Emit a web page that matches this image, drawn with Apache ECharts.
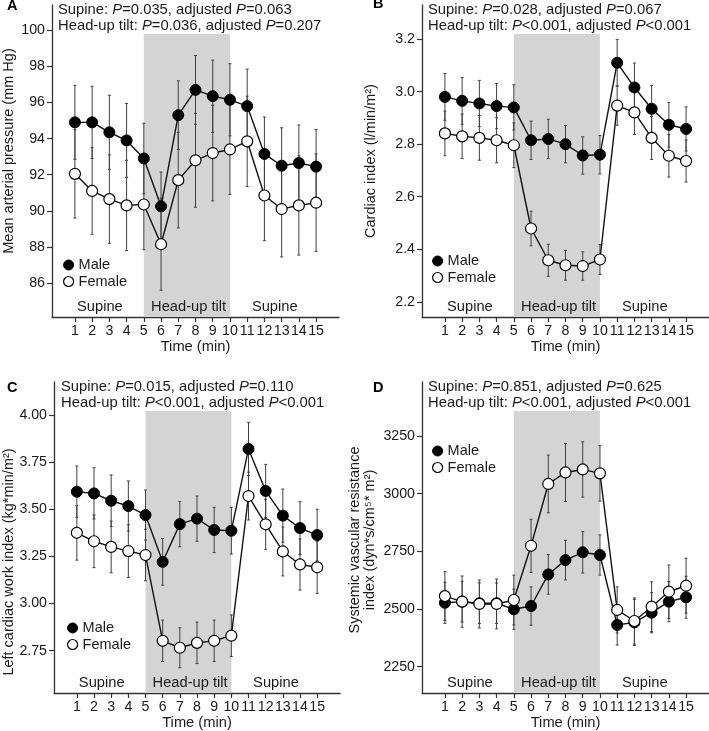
<!DOCTYPE html>
<html>
<head>
<meta charset="utf-8">
<script src="https://cdn.jsdelivr.net/npm/echarts@6/dist/echarts.min.js"></script>
<style>
html,body{margin:0;padding:0;background:#fff;}
#chart{width:709px;height:731px;}
</style>
</head>
<body>
<div id="chart"></div>
<script>
// time axis
const timePoints = [1,2,3,4,5,6,7,8,9,10,11,12,13,14,15];
const phaseNames = ['Supine', 'Head-up tilt', 'Supine'];
const phaseCenters = [2.45, 7.6, 12.6];
const tiltStart = 5, tiltEnd = 10;

// A - mean arterial pressure (mm Hg), mean and error
const mapMale = [94.9, 94.9, 94.35, 93.9, 92.9, 90.25, 95.3, 96.7, 96.35, 96.15, 95.8, 93.15, 92.5, 92.65, 92.45];
const mapMaleErr = [2.05, 2.0, 2.05, 2.05, 1.95, 1.9, 1.9, 1.9, 2.0, 2.0, 2.05, 2.05, 2.1, 2.1, 2.05];
const mapFemale = [92.05, 91.1, 90.65, 90.3, 90.35, 88.15, 91.7, 92.8, 93.2, 93.4, 93.85, 90.85, 90.1, 90.3, 90.45];
const mapFemaleErr = [2.45, 2.4, 2.45, 2.5, 2.5, 2.55, 2.65, 2.6, 2.65, 2.5, 2.5, 2.5, 2.65, 2.75, 2.7];
const mapTicks = [86, 88, 90, 92, 94, 96, 98, 100];

// B - cardiac index
const ciMale = [2.98, 2.965, 2.955, 2.945, 2.94, 2.815, 2.82, 2.80, 2.757, 2.76, 3.11, 3.016, 2.935, 2.874, 2.858];
const ciMaleErr = [0.089, 0.089, 0.088, 0.086, 0.086, 0.073, 0.075, 0.071, 0.071, 0.073, 0.089, 0.093, 0.089, 0.085, 0.084];
const ciFemale = [2.841, 2.83, 2.824, 2.815, 2.796, 2.479, 2.358, 2.339, 2.336, 2.361, 2.947, 2.921, 2.824, 2.756, 2.736];
const ciFemaleErr = [0.085, 0.085, 0.085, 0.086, 0.085, 0.066, 0.061, 0.057, 0.054, 0.057, 0.075, 0.084, 0.082, 0.081, 0.08];
const ciTicks = [2.2, 2.4, 2.6, 2.8, 3.0, 3.2];

// C - left cardiac work index
const lcwiMale = [3.593, 3.584, 3.545, 3.517, 3.469, 3.221, 3.421, 3.45, 3.39, 3.386, 3.82, 3.597, 3.466, 3.40, 3.363];
const lcwiMaleErr = [0.136, 0.136, 0.137, 0.133, 0.133, 0.124, 0.12, 0.12, 0.12, 0.124, 0.141, 0.141, 0.141, 0.14, 0.137];
const lcwiFemale = [3.375, 3.33, 3.30, 3.278, 3.257, 2.802, 2.765, 2.791, 2.802, 2.829, 3.57, 3.42, 3.276, 3.207, 3.192];
const lcwiFemaleErr = [0.145, 0.14, 0.137, 0.14, 0.137, 0.11, 0.106, 0.11, 0.11, 0.11, 0.127, 0.133, 0.13, 0.136, 0.138];
const lcwiTicks = [2.75, 3.00, 3.25, 3.50, 3.75, 4.00];

// D - systemic vascular resistance index
const svriMale = [2527, 2532, 2525, 2525, 2499, 2513, 2650, 2712, 2746, 2734, 2431, 2442, 2484, 2532, 2551];
const svriMaleErr = [89, 88, 88, 88, 87, 83, 86, 86, 90, 87, 87, 100, 87, 87, 91];
const svriFemale = [2556, 2532, 2522, 2522, 2539, 2774, 3042, 3092, 3105, 3088, 2496, 2448, 2510, 2575, 2601];
const svriFemaleErr = [106, 111, 104, 108, 108, 115, 125, 126, 120, 120, 100, 100, 108, 116, 119];
const svriTicks = [2250, 2500, 2750, 3000, 3250];

const FONT = '"Liberation Sans", Arial, Helvetica, sans-serif';
const INK = '#1a1a1a';

let panels = [
  { letter: 'A', grid: {left: 52, top: 5, width: 287, height: 312}, yMin: 84.12, yMax: 101.4, ticks: mapTicks, dec: 0,
    male: mapMale, maleErr: mapMaleErr, female: mapFemale, femaleErr: mapFemaleErr,
    note: ['Supine: {i|P}=0.035, adjusted {i|P}=0.063', 'Head-up tilt: {i|P}=0.036, adjusted {i|P}=0.207'],
    noteX: 58, noteY: 10, letterPos: [7, 6],
    title: 'Mean arterial pressure (mm Hg)', titlePos: [9, 151],
    legend: {left: 63, top: 257} },
  { letter: 'B', grid: {left: 422, top: 5, width: 287, height: 312}, yMin: 2.142, yMax: 3.33, ticks: ciTicks, dec: 1,
    male: ciMale, maleErr: ciMaleErr, female: ciFemale, femaleErr: ciFemaleErr,
    note: ['Supine: {i|P}=0.028, adjusted {i|P}=0.067', 'Head-up tilt: {i|P}<0.001, adjusted {i|P}<0.001'],
    noteX: 428, noteY: 10, letterPos: [373, 4],
    title: 'Cardiac index (l/min/m\u00b2)', titlePos: [371, 161],
    legend: {left: 432, top: 253} },
  { letter: 'C', grid: {left: 54, top: 382, width: 286, height: 311}, yMin: 2.525, yMax: 4.175, ticks: lcwiTicks, dec: 2,
    male: lcwiMale, maleErr: lcwiMaleErr, female: lcwiFemale, femaleErr: lcwiFemaleErr,
    note: ['Supine: {i|P}=0.015, adjusted {i|P}=0.110', 'Head-up tilt: {i|P}<0.001, adjusted {i|P}<0.001'],
    noteX: 61, noteY: 387, letterPos: [7, 388],
    title: 'Left cardiac work index (kg*min/m\u00b2)', titlePos: [9, 562],
    legend: {left: 67, top: 620} },
  { letter: 'D', grid: {left: 422, top: 382, width: 287, height: 311}, yMin: 2136, yMax: 3484, ticks: svriTicks, dec: 0,
    male: svriMale, maleErr: svriMaleErr, female: svriFemale, femaleErr: svriFemaleErr,
    note: ['Supine: {i|P}=0.851, adjusted {i|P}=0.625', 'Head-up tilt: {i|P}<0.001, adjusted {i|P}<0.001'],
    noteX: 428, noteY: 387, letterPos: [373, 388],
    title: 'Systemic vascular resistance\nindex (dyn*s/cm\u2075* m\u00b2)', titlePos: [362, 540],
    legend: {left: 432, top: 443} }
];

let grids = [], xAxes = [], yAxes = [], series = [], legends = [], graphics = [];

// shaded tilt window + phase names
function renderPhase(params, api) {
  let cs = params.coordSys;
  let bottom = cs.y + cs.height;
  let x0 = api.coord([tiltStart, api.value(0)])[0];
  let x1 = api.coord([tiltEnd, api.value(0)])[0];
  let children = [{
    type: 'rect', shape: {x: x0, y: cs.y + 29, width: x1 - x0, height: bottom - cs.y - 29},
    style: {fill: '#d4d4d4'}
  }];
  phaseCenters.forEach((c, k) => {
    let px = api.coord([c, api.value(0)])[0];
    children.push({
      type: 'text', x: px, y: bottom - 10,
      style: {text: phaseNames[k], fontSize: 14.7, fontFamily: FONT, fill: INK, align: 'center', verticalAlign: 'middle'}
    });
  });
  return {type: 'group', children: children};
}

function renderErr(params, api) {
  let x = api.value(0), m = api.value(1), e = api.value(2);
  let hi = api.coord([x, m + e]), lo = api.coord([x, m - e]);
  let st = {stroke: '#404040', lineWidth: 1};
  return {type: 'group', children: [
    {type: 'line', shape: {x1: hi[0], y1: hi[1], x2: lo[0], y2: lo[1]}, style: st},
    {type: 'line', shape: {x1: hi[0] - 1.5, y1: hi[1], x2: hi[0] + 1.5, y2: hi[1]}, style: st},
    {type: 'line', shape: {x1: lo[0] - 1.5, y1: lo[1], x2: lo[0] + 1.5, y2: lo[1]}, style: st}
  ]};
}

panels.forEach((p, i) => {
  grids.push(p.grid);
  xAxes.push({
    gridIndex: i, type: 'value', min: -0.33, max: 16.33,
    axisLine: {onZero: false, lineStyle: {color: '#333', width: 1.3}},
    axisTick: {customValues: timePoints, length: 5, lineStyle: {color: '#333', width: 1.2}},
    axisLabel: {customValues: timePoints, fontSize: 14.2, fontFamily: FONT, color: INK, margin: 7},
    splitLine: {show: false},
    name: 'Time (min)', nameLocation: 'middle', nameGap: 22,
    nameTextStyle: {fontSize: 14.7, fontFamily: FONT, color: INK}
  });
  yAxes.push({
    gridIndex: i, type: 'value', min: p.yMin, max: p.yMax,
    axisLine: {show: true, onZero: false, lineStyle: {color: '#333', width: 1.3}},
    axisTick: {show: true, customValues: p.ticks, length: 5, lineStyle: {color: '#333', width: 1.2}},
    axisLabel: {customValues: p.ticks, fontSize: 14.2, fontFamily: FONT, color: INK, margin: 7,
      formatter: v => Number(v).toFixed(p.dec)},
    splitLine: {show: false}
  });
  series.push({
    type: 'custom', xAxisIndex: i, yAxisIndex: i, z: 1, silent: true,
    data: [[p.yMin]], encode: {x: -1, y: 0}, renderItem: renderPhase
  });
  [['Male', p.male, p.maleErr], ['Female', p.female, p.femaleErr]].forEach(([nm, vals, errs]) => {
    series.push({
      type: 'custom', xAxisIndex: i, yAxisIndex: i, z: 2, silent: true,
      data: timePoints.map((t, j) => [t, vals[j], errs[j]]),
      encode: {x: 0, y: 1}, renderItem: renderErr
    });
  });
  series.push({
    name: 'Male', type: 'line', xAxisIndex: i, yAxisIndex: i, z: 3,
    data: timePoints.map((t, j) => [t, p.male[j]]),
    symbol: 'circle', symbolSize: 11, showAllSymbol: true,
    lineStyle: {color: '#111', width: 1.4},
    itemStyle: {color: '#000', borderColor: '#000', borderWidth: 1},
    emphasis: {disabled: true}
  });
  series.push({
    name: 'Female', type: 'line', xAxisIndex: i, yAxisIndex: i, z: 4,
    data: timePoints.map((t, j) => [t, p.female[j]]),
    symbol: 'circle', symbolSize: 11, showAllSymbol: true,
    lineStyle: {color: '#111', width: 1.4},
    itemStyle: {color: '#fff', borderColor: '#000', borderWidth: 1.2},
    emphasis: {disabled: true}
  });
  legends.push({
    orient: 'vertical', left: p.legend.left, top: p.legend.top, padding: 0,
    icon: 'circle', itemWidth: 10, itemHeight: 10, itemGap: 0.5, selectedMode: false,
    textStyle: {fontSize: 14.5, fontFamily: FONT, color: INK, lineHeight: 16},
    data: [
      {name: 'Male', itemStyle: {color: '#000', borderColor: '#000', borderWidth: 1}},
      {name: 'Female', itemStyle: {color: '#fff', borderColor: '#000', borderWidth: 1.2}}
    ]
  });
  // panel letter
  graphics.push({type: 'text', x: p.letterPos[0], y: p.letterPos[1],
    style: {text: p.letter, fontSize: 14.5, fontWeight: 'bold', fontFamily: FONT, fill: '#000',
      align: 'left', verticalAlign: 'middle'}});
  // P value notes
  p.note.forEach((line, k) => {
    graphics.push({type: 'text', x: p.noteX, y: p.noteY + k * 15.5,
      style: {text: line, fontSize: 14.8, fontFamily: FONT, fill: INK, align: 'left', verticalAlign: 'middle',
        rich: {i: {fontStyle: 'italic', fontSize: 14.8, fontFamily: FONT, fill: INK}}}});
  });
  // y axis title
  graphics.push({type: 'text', x: p.titlePos[0], y: p.titlePos[1], rotation: Math.PI / 2,
    style: {text: p.title, fontSize: 14.5, fontFamily: FONT, fill: INK, align: 'center', verticalAlign: 'middle', lineHeight: 15}});
});

let chart = echarts.init(document.getElementById('chart'), null, {renderer: 'canvas'});
chart.setOption({
  animation: false,
  backgroundColor: '#fff',
  grid: grids,
  xAxis: xAxes,
  yAxis: yAxes,
  legend: legends,
  series: series,
  graphic: graphics
});
</script>
</body>
</html>
